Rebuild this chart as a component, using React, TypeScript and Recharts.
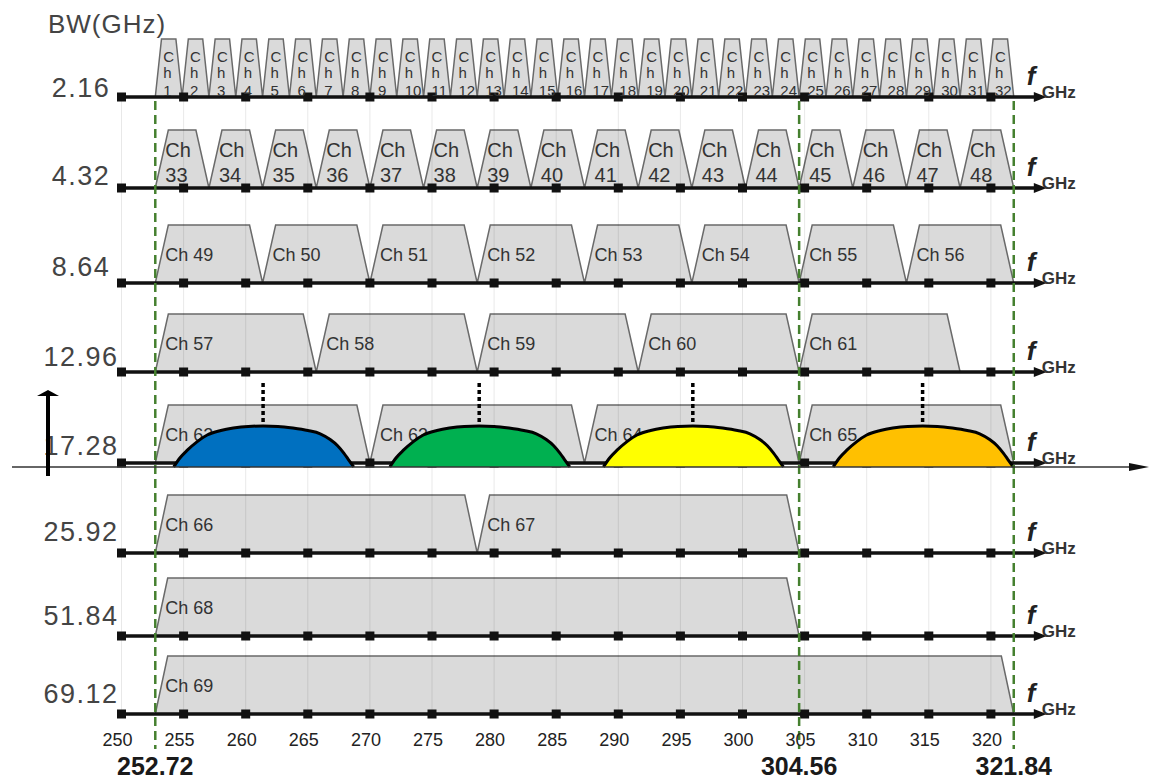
import React from 'react';
import {
  ComposedChart,
  Area,
  Scatter,
  XAxis,
  YAxis,
  ReferenceLine,
  ReferenceDot,
} from 'recharts';

// ---- Channel plan (GHz) ----
const BAND_START_GHZ = 252.72;
const BW_LABELS = ['2.16', '4.32', '8.64', '12.96', '17.28', '25.92', '51.84', '69.12'];
const BANDWIDTHS_GHZ = [2.16, 4.32, 8.64, 12.96, 17.28, 25.92, 51.84, 69.12];
const FIRST_CHANNEL = [1, 33, 49, 57, 62, 66, 68, 69];
const CHANNEL_COUNT = [32, 16, 8, 5, 4, 2, 1, 1];

// ---- Axis ticks ----
const FREQ_TICKS = [250, 255, 260, 265, 270, 275, 280, 285, 290, 295, 300, 305, 310, 315, 320];
const EDGE_MARKERS_GHZ = [252.72, 304.56, 321.84];

// ---- Signal spectra sitting on the 17.28 GHz lane ----
const HUMP_CENTERS_GHZ = [261.4, 278.8, 296.0, 314.5];
const HUMP_COLORS = ['#0070C0', '#00B050', '#FFFF00', '#FFC000'];
const HUMP_OFFSETS_GHZ = [-7.2, -6.7, -6.1, -5.3, -4.5, -3.4, -2.4, -1.2, 0, 1.2, 2.4, 3.6, 4.6, 5.4, 6.0, 6.5, 6.9, 7.3];
const HUMP_LEVELS = [0, 0.22, 0.41, 0.62, 0.78, 0.89, 0.95, 0.99, 1, 0.99, 0.95, 0.89, 0.81, 0.67, 0.52, 0.34, 0.17, 0];

// ---- Layout ----
const WIDTH = 1151;
const HEIGHT = 779;
const PX_PER_GHZ = 12.42;
const X_LEFT = 250 - 121.5 / PX_PER_GHZ;
const X_DOMAIN: [number, number] = [X_LEFT, X_LEFT + WIDTH / PX_PER_GHZ];
const PLOT_H = 727;
const LANE_Y = [97, 188, 283, 372, 463, 553, 636, 714];
const CAPTION_LIFT = [0, 3, 7, 6, 8, 12, 11, 11];
const TRAP_H = 58;
const EDGE_SLOPE_GHZ = [0.5, 1.05, 1.05, 1.05, 1.05, 1.0, 1.0, 1.0];
const SPAN_Y = 467;
const HUMP_H = 41;
const LANE_START = 249.75;
const LANE_END = 324.5;
const FONT = 'Liberation Sans, Arial, Helvetica, sans-serif';

// horizontal page offset -> GHz, used for the frame decorations and side captions
const atPx = (p: number) => X_LEFT + p / PX_PER_GHZ;

const LANES = BANDWIDTHS_GHZ.map((bw, i) => {
  const channels = [] as { ch: number; start: number; end: number }[];
  for (let k = 0; k < CHANNEL_COUNT[i]; k++) {
    const start = BAND_START_GHZ + k * bw;
    channels.push({ ch: FIRST_CHANNEL[i] + k, start, end: start + bw });
  }
  return { index: i, bw, label: BW_LABELS[i], y: LANE_Y[i], channels };
});

const trapezoids = (lane: (typeof LANES)[number]) => {
  const s = EDGE_SLOPE_GHZ[lane.index];
  const top = lane.y - TRAP_H;
  return lane.channels.flatMap((c) => [
    { f: c.start, y: lane.y },
    { f: c.start + s, y: top },
    { f: c.end - s, y: top },
    { f: c.end, y: lane.y },
  ]);
};

const laneLabels = (lane: (typeof LANES)[number]) =>
  lane.channels.map((c) => ({ f: c.start, y: lane.y, ch: c.ch, lane: lane.index }));

const tickSquares = LANES.flatMap((lane) => FREQ_TICKS.map((f) => ({ f, y: lane.y })));
const laneEnds = LANES.map((lane) => ({ f: LANE_END, y: lane.y }));
const bwCaptions = LANES.map((lane) => ({ f: atPx(81), y: lane.y, label: lane.label, lane: lane.index }));

const humpData = (center: number) =>
  HUMP_OFFSETS_GHZ.map((o, i) => ({ f: center + o, y: SPAN_Y - HUMP_H * HUMP_LEVELS[i] }));

const ChannelLabel = (props: any) => {
  const { cx, cy, payload } = props;
  const common = { fill: '#333', fontFamily: FONT } as const;
  if (payload.lane === 0) {
    return (
      <g>
        <text x={cx + 8} y={cy - 35} fontSize={15} {...common}>C</text>
        <text x={cx + 8} y={cy - 19} fontSize={15} {...common}>h</text>
        <text x={cx + 8} y={cy - 1} fontSize={15} {...common}>{payload.ch}</text>
      </g>
    );
  }
  if (payload.lane === 1) {
    return (
      <g>
        <text x={cx + 10} y={cy - 31} fontSize={20} {...common}>Ch</text>
        <text x={cx + 10} y={cy - 6} fontSize={20} {...common}>{payload.ch}</text>
      </g>
    );
  }
  return (
    <text x={cx + 10} y={cy - 22} fontSize={18} {...common}>{`Ch ${payload.ch}`}</text>
  );
};

const TickSquare = (props: any) => (
  <rect x={props.cx - 4.5} y={props.cy - 4.5} width={9} height={9} fill="#111" />
);

const LaneArrow = (props: any) => {
  const { cx, cy } = props;
  return (
    <g>
      <polygon points={`${cx - 13},${cy - 5} ${cx},${cy} ${cx - 13},${cy + 5}`} fill="#111" />
      <text x={cx - 20} y={cy - 12} fontSize={26} fontWeight="bold" fontStyle="italic" fill="#222" fontFamily={FONT}>f</text>
      <text x={cx - 5} y={cy + 1} fontSize={17} fontWeight="bold" fill="#333" fontFamily={FONT}>GHz</text>
    </g>
  );
};

const BwCaption = (props: any) => (
  <text
    x={props.cx}
    y={props.cy - CAPTION_LIFT[props.payload.lane]}
    textAnchor="middle"
    fontSize={27}
    letterSpacing={1.5}
    fill="#444"
    fontFamily={FONT}
  >
    {props.payload.label}
  </text>
);

export default function App() {
  return (
    <div style={{ position: 'absolute', left: 0, top: 0, width: WIDTH, height: HEIGHT, background: '#fff' }}>
      <ComposedChart
        width={WIDTH}
        height={HEIGHT}
        margin={{ top: 0, right: 0, bottom: 0, left: 0 }}
        style={{ fontFamily: FONT }}
      >
        <XAxis
          xAxisId={0}
          type="number"
          dataKey="f"
          domain={X_DOMAIN}
          allowDataOverflow
          ticks={FREQ_TICKS}
          interval={0}
          height={20}
          tickSize={0}
          tickMargin={6}
          axisLine={false}
          tickLine={false}
          tick={{ fontSize: 18, fill: '#222', dx: -4, fontFamily: FONT }}
        />
        <XAxis
          xAxisId="edges"
          type="number"
          dataKey="f"
          domain={X_DOMAIN}
          allowDataOverflow
          ticks={EDGE_MARKERS_GHZ}
          interval={0}
          height={32}
          tickSize={0}
          tickMargin={10}
          axisLine={false}
          tickLine={false}
          tickFormatter={(v: number) => v.toFixed(2)}
          tick={{ fontSize: 25, fontWeight: 'bold', fill: '#1a1a1a', fontFamily: FONT }}
        />
        <YAxis
          yAxisId={0}
          type="number"
          dataKey="y"
          domain={[0, PLOT_H]}
          reversed
          allowDataOverflow
          hide
        />

        {/* channel masks, one area per bandwidth lane */}
        {LANES.map((lane) => (
          <Area
            key={`lane-${lane.index}`}
            data={trapezoids(lane)}
            dataKey="y"
            type="linear"
            baseValue={lane.y}
            stroke="#6a6a6a"
            strokeWidth={1.5}
            fill="#d6d6d6"
            fillOpacity={0.9}
            dot={false}
            activeDot={false}
            isAnimationActive={false}
          />
        ))}

        {/* light frequency grid */}
        {FREQ_TICKS.map((f) => (
          <ReferenceLine
            key={`grid-${f}`}
            segment={[{ x: f, y: LANE_Y[0] }, { x: f, y: LANE_Y[LANE_Y.length - 1] }]}
            stroke="rgba(0,0,0,0.09)"
            strokeWidth={1}
            ifOverflow="visible"
          />
        ))}

        {/* lane axes */}
        {LANES.map((lane) => (
          <ReferenceLine
            key={`axis-${lane.index}`}
            segment={[{ x: LANE_START, y: lane.y }, { x: LANE_END - 0.8, y: lane.y }]}
            stroke="#111"
            strokeWidth={3.5}
            ifOverflow="visible"
          />
        ))}

        <Scatter data={tickSquares} shape={TickSquare} isAnimationActive={false} />
        <Scatter data={laneEnds} shape={LaneArrow} isAnimationActive={false} />
        <Scatter data={bwCaptions} shape={BwCaption} isAnimationActive={false} />
        <ReferenceDot
          x={atPx(107)}
          y={33}
          ifOverflow="visible"
          shape={(p: any) => (
            <text x={p.cx} y={p.cy} textAnchor="middle" fontSize={26} letterSpacing={1} fill="#444" fontFamily={FONT}>
              BW(GHz)
            </text>
          )}
        />

        {LANES.map((lane) => (
          <Scatter
            key={`labels-${lane.index}`}
            data={laneLabels(lane)}
            shape={ChannelLabel}
            isAnimationActive={false}
          />
        ))}

        {/* spectra */}
        {HUMP_CENTERS_GHZ.map((c, i) => (
          <Area
            key={`hump-${i}`}
            data={humpData(c)}
            dataKey="y"
            type="monotone"
            baseValue={SPAN_Y}
            stroke="#000"
            strokeWidth={3}
            fill={HUMP_COLORS[i]}
            fillOpacity={1}
            dot={false}
            activeDot={false}
            isAnimationActive={false}
            zIndex={700}
          />
        ))}
        {HUMP_CENTERS_GHZ.map((c, i) => (
          <ReferenceLine
            key={`peak-${i}`}
            segment={[{ x: c, y: 383 }, { x: c, y: SPAN_Y - HUMP_H - 1 }]}
            stroke="#000"
            strokeWidth={3.5}
            strokeDasharray="4 3"
            ifOverflow="visible"
            zIndex={800}
          />
        ))}

        {/* band edges */}
        {EDGE_MARKERS_GHZ.map((f) => (
          <ReferenceLine
            key={`edge-${f}`}
            segment={[{ x: f, y: 101 }, { x: f, y: 749 }]}
            stroke="#45802f"
            strokeWidth={2.5}
            strokeDasharray="9 5"
            ifOverflow="visible"
            zIndex={800}
          />
        ))}

        {/* frequency / power frame arrows */}
        <ReferenceLine
          segment={[{ x: atPx(12), y: SPAN_Y }, { x: atPx(1133), y: SPAN_Y }]}
          stroke="#333"
          strokeWidth={1.5}
          ifOverflow="visible"
          zIndex={800}
        />
        <ReferenceDot
          x={atPx(1149)}
          y={SPAN_Y}
          ifOverflow="visible"
          zIndex={800}
          shape={(p: any) => (
            <polygon points={`${p.cx - 20},${p.cy - 4} ${p.cx},${p.cy} ${p.cx - 20},${p.cy + 4}`} fill="#111" />
          )}
        />
        <ReferenceLine
          segment={[{ x: atPx(48), y: 476 }, { x: atPx(48), y: 394 }]}
          stroke="#000"
          strokeWidth={4}
          ifOverflow="visible"
          zIndex={800}
        />
        <ReferenceDot
          x={atPx(48)}
          y={390}
          ifOverflow="visible"
          zIndex={800}
          shape={(p: any) => (
            <polygon points={`${p.cx - 11},${p.cy + 6} ${p.cx},${p.cy} ${p.cx + 11},${p.cy + 6}`} fill="#000" />
          )}
        />
      </ComposedChart>
    </div>
  );
}
